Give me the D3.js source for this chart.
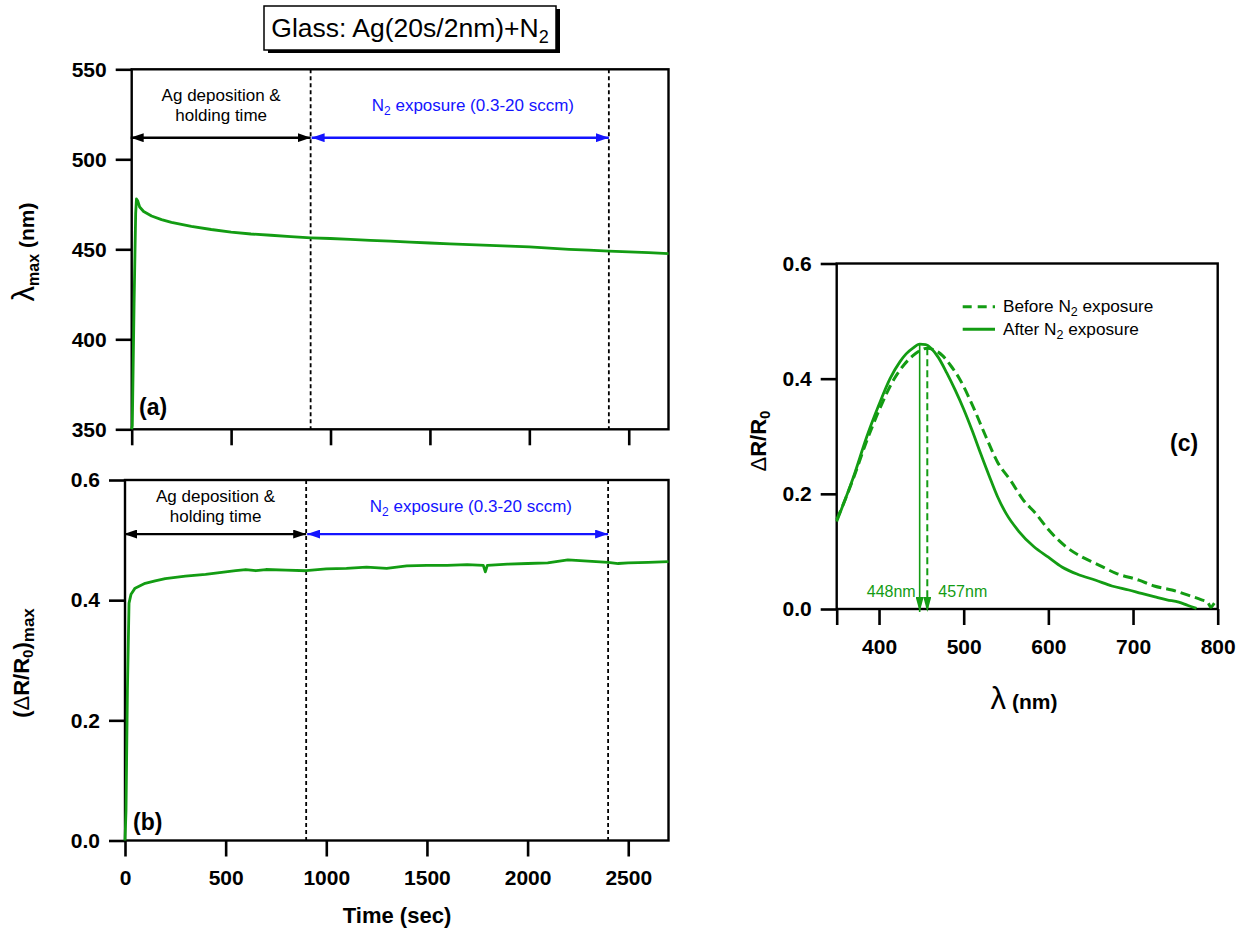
<!DOCTYPE html>
<html><head><meta charset="utf-8">
<script src="https://cdn.jsdelivr.net/npm/d3@7"></script>
<style>
body{margin:0;background:#fff;}
svg{display:block;font-family:"Liberation Sans",Arial,Helvetica,sans-serif;}
</style></head><body>
<svg id="c" width="1257" height="934"></svg>
<script>
// ---------------- data ----------------
const timeA = [0, 3, 12, 20, 24, 30, 40, 60, 100, 150, 200, 300, 400, 500, 600, 700, 800, 900, 1000, 1100, 1200, 1300, 1400, 1500, 1600, 1700, 1800, 1900, 2000, 2100, 2200, 2300, 2400, 2500, 2600, 2700];
const lambdaMaxA = [350, 352, 420, 470, 478, 477, 473.5, 471, 468.5, 466.5, 465, 462.8, 461, 459.5, 458.5, 457.8, 457, 456.4, 456, 455.5, 455, 454.5, 454, 453.5, 453, 452.6, 452.2, 451.8, 451.3, 450.6, 450, 449.5, 449, 448.6, 448.1, 447.6];

const timeB = [0, 5, 12, 20, 30, 50, 100, 150, 200, 300, 400, 500, 550, 600, 650, 700, 800, 900, 1000, 1100, 1200, 1300, 1400, 1500, 1600, 1700, 1780, 1790, 1800, 1900, 2000, 2100, 2200, 2300, 2400, 2450, 2500, 2600, 2700];
const dRmaxB = [0, 0.05, 0.25, 0.395, 0.41, 0.42, 0.428, 0.432, 0.436, 0.44, 0.443, 0.447, 0.449, 0.451, 0.449, 0.451, 0.450, 0.449, 0.452, 0.453, 0.455, 0.453, 0.457, 0.458, 0.458, 0.459, 0.458, 0.447, 0.458, 0.460, 0.461, 0.462, 0.467, 0.465, 0.463, 0.461, 0.462, 0.463, 0.464];

const wlAfter = [350, 360, 370, 385, 400, 413, 425, 432, 440, 448, 455, 462, 470, 480, 490, 500, 510, 520, 532, 540, 550, 565, 583, 600, 616, 635, 656, 675, 695, 710, 726, 740, 754, 765, 775];
const rAfter = [0.152, 0.19, 0.23, 0.297, 0.355, 0.40, 0.43, 0.443, 0.453, 0.46, 0.459, 0.452, 0.437, 0.41, 0.38, 0.347, 0.31, 0.27, 0.224, 0.195, 0.166, 0.135, 0.108, 0.09, 0.073, 0.06, 0.05, 0.04, 0.033, 0.027, 0.021, 0.016, 0.012, 0.006, 0.001];

const wlBefore = [350, 360, 370, 385, 400, 418, 430, 440, 450, 457, 465, 475, 485, 495, 510, 526, 540, 556, 570, 585, 600, 621, 640, 656, 680, 707, 725, 746, 765, 781, 788, 792, 797, 800];
const rBefore = [0.155, 0.19, 0.228, 0.29, 0.345, 0.40, 0.425, 0.44, 0.45, 0.453, 0.45, 0.44, 0.422, 0.40, 0.355, 0.30, 0.255, 0.222, 0.19, 0.166, 0.138, 0.108, 0.09, 0.079, 0.062, 0.05, 0.04, 0.033, 0.024, 0.016, 0.012, 0.003, 0.012, 0.014];

const peakWl = [448, 457];          // after, before
const peakVal = [0.46, 0.453];
const peakLabels = ["448nm", "457nm"];

const timeTicks = [0, 500, 1000, 1500, 2000, 2500];
const lambdaTicks = [350, 400, 450, 500, 550];
const ratioTicks = [0.0, 0.2, 0.4, 0.6];
const wlTicks = [350, 400, 500, 600, 700, 800];
const phaseBounds = [0, 900, 2400];   // deposition start, N2 start, N2 end
const arrowLevelA = 512, arrowLevelB = 0.51;

// ---------------- drawing ----------------
const GREEN = "#139c13", BLUE = "#1414ff";
const svg = d3.select("#c");

const defs = svg.append("defs");
function mk(id, color, w, h) {
  defs.append("marker").attr("id", id).attr("viewBox", `0 0 ${w} ${h}`)
    .attr("refX", w).attr("refY", h / 2).attr("markerWidth", w).attr("markerHeight", h)
    .attr("markerUnits", "userSpaceOnUse").attr("orient", "auto-start-reverse")
    .append("path").attr("d", `M0,0L${w},${h / 2}L0,${h}Z`).attr("fill", color);
}
mk("ahK", "#000", 13, 9);
mk("ahB", BLUE, 13, 9);
mk("ahG", GREEN, 15, 8);

const xA = d3.scaleLinear([0, 2700], [131.7, 668.5]);
const yA = d3.scaleLinear([350, 550], [429.3, 69.3]);
const xB = d3.scaleLinear([0, 2700], [125, 668.5]);
const yB = d3.scaleLinear([0, 0.6], [840.5, 480]);
const xC = d3.scaleLinear([350, 800], [836.7, 1217.7]);
const yC = d3.scaleLinear([0, 0.6], [609, 263.5]);

function frame(x, y, xt, yt, xfmt, yfmt) {
  const [x0, x1] = x.range(), [y0, y1] = [y.range()[1], y.range()[0]];
  const gx = svg.append("g").attr("transform", `translate(0,${y1})`)
    .call(d3.axisBottom(x).tickValues(xt).tickSize(16).tickSizeOuter(0).tickPadding(14).tickFormat(xfmt));
  const gy = svg.append("g").attr("transform", `translate(${x0},0)`)
    .call(d3.axisLeft(y).tickValues(yt).tickSize(16).tickSizeOuter(0).tickPadding(9).tickFormat(yfmt));
  [gx, gy].forEach(g => {
    g.attr("font-family", null).attr("font-size", null);
    g.selectAll("line").attr("stroke", "#000").attr("stroke-width", 2.6);
    g.select(".domain").remove();
    g.selectAll("text").attr("font-size", 21).attr("font-weight", "bold").attr("fill", "#000");
  });
  svg.append("rect").attr("x", x0).attr("y", y0).attr("width", x1 - x0).attr("height", y1 - y0)
    .attr("fill", "none").attr("stroke", "#000").attr("stroke-width", 2.4);
}

frame(xA, yA, timeTicks, lambdaTicks, () => "", d3.format("d"));
frame(xB, yB, timeTicks, ratioTicks, d3.format("d"), d3.format(".1f"));
frame(xC, yC, wlTicks, ratioTicks, d => d === 350 ? "" : d, d3.format(".1f"));

// phase lines and arrows for (a) and (b)
function phases(x, y, level, txtY, blueY, blueEnd) {
  [phaseBounds[1], phaseBounds[2]].forEach(t => {
    svg.append("line").attr("x1", x(t)).attr("x2", x(t)).attr("y1", y.range()[1]).attr("y2", y.range()[0])
      .attr("stroke", "#000").attr("stroke-width", 1.8).attr("stroke-dasharray", "4,3");
  });
  svg.append("line").attr("x1", x(phaseBounds[0]) - 1).attr("x2", x(phaseBounds[1]))
    .attr("y1", y(level)).attr("y2", y(level)).attr("stroke", "#000").attr("stroke-width", 2.4)
    .attr("marker-start", "url(#ahK)").attr("marker-end", "url(#ahK)");
  svg.append("line").attr("x1", x(phaseBounds[1]) + 1).attr("x2", x(phaseBounds[2]))
    .attr("y1", y(level)).attr("y2", y(level)).attr("stroke", BLUE).attr("stroke-width", 2.4)
    .attr("marker-start", "url(#ahB)").attr("marker-end", "url(#ahB)");
  const cx = (x(phaseBounds[0]) + x(phaseBounds[1])) / 2;
  svg.append("text").attr("x", cx).attr("y", txtY).attr("text-anchor", "middle").attr("font-size", 17).text("Ag deposition &");
  svg.append("text").attr("x", cx).attr("y", txtY + 20).attr("text-anchor", "middle").attr("font-size", 17).text("holding time");
  const t = svg.append("text").attr("x", blueEnd).attr("y", blueY).attr("text-anchor", "end").attr("font-size", 17).attr("fill", BLUE);
  t.append("tspan").text("N");
  t.append("tspan").attr("font-size", 12).attr("dy", 4).text("2");
  t.append("tspan").attr("dy", -4).text(" exposure (0.3-20 sccm)");
}
phases(xA, yA, arrowLevelA, 101, 111, 574);
phases(xB, yB, arrowLevelB, 502, 512, 572);

// data lines
const lineA = d3.line().x((d, i) => xA(timeA[i])).y(d => yA(d));
svg.append("path").attr("d", lineA(lambdaMaxA)).attr("fill", "none").attr("stroke", GREEN).attr("stroke-width", 2.8).attr("stroke-linejoin", "round");
const lineB = d3.line().x((d, i) => xB(timeB[i])).y(d => yB(d));
svg.append("path").attr("d", lineB(dRmaxB)).attr("fill", "none").attr("stroke", GREEN).attr("stroke-width", 2.8).attr("stroke-linejoin", "round");

const lineCa = d3.line().x((d, i) => xC(wlAfter[i])).y(d => yC(d)).curve(d3.curveMonotoneX);
const lineCb = d3.line().x((d, i) => xC(wlBefore[i])).y(d => yC(d)).curve(d3.curveMonotoneX);
svg.append("path").attr("d", lineCb(rBefore)).attr("fill", "none").attr("stroke", GREEN).attr("stroke-width", 3).attr("stroke-dasharray", "10,5");
svg.append("path").attr("d", lineCa(rAfter)).attr("fill", "none").attr("stroke", GREEN).attr("stroke-width", 2.8);

// peak arrows
svg.append("line").attr("x1", xC(peakWl[0])).attr("x2", xC(peakWl[0])).attr("y1", yC(peakVal[0])).attr("y2", yC(0) + 3)
  .attr("stroke", GREEN).attr("stroke-width", 1.6).attr("marker-end", "url(#ahG)");
svg.append("line").attr("x1", xC(peakWl[1])).attr("x2", xC(peakWl[1])).attr("y1", yC(peakVal[1])).attr("y2", yC(0) + 3)
  .attr("stroke", GREEN).attr("stroke-width", 2).attr("stroke-dasharray", "7,4").attr("marker-end", "url(#ahG)");
svg.append("text").attr("x", xC(peakWl[0]) - 4).attr("y", 597).attr("text-anchor", "end").attr("font-size", 16).attr("fill", GREEN).text(peakLabels[0]);
svg.append("text").attr("x", xC(peakWl[1]) + 11).attr("y", 597).attr("text-anchor", "start").attr("font-size", 16).attr("fill", GREEN).text(peakLabels[1]);

// legend (c)
[["Before", "10,5", 306.7], ["After", null, 329.3]].forEach(([w, dash, yy]) => {
  const l = svg.append("line").attr("x1", 962.7).attr("x2", 995).attr("y1", yy).attr("y2", yy)
    .attr("stroke", GREEN).attr("stroke-width", 3);
  if (dash) l.attr("stroke-dasharray", "9,6");
  const t = svg.append("text").attr("x", 1003).attr("y", yy + 5.5).attr("font-size", 17.2);
  t.append("tspan").text(w + " N");
  t.append("tspan").attr("font-size", 12.5).attr("dy", 4).text("2");
  t.append("tspan").attr("dy", -4).text(" exposure");
});

// panel labels
const pl = (x, y, s) => svg.append("text").attr("x", x).attr("y", y).attr("font-size", 23).attr("font-weight", "bold").text(s);
pl(139, 415, "(a)");
pl(133, 830, "(b)");
pl(1170, 451, "(c)");

// axis titles
let t = svg.append("text").attr("transform", "translate(34,252) rotate(-90)").attr("text-anchor", "middle");
t.append("tspan").attr("font-size", 31).text("λ");
t.append("tspan").attr("font-size", 16).attr("font-weight", "bold").attr("dy", 5).text("max");
t.append("tspan").attr("font-size", 21).attr("font-weight", "bold").attr("dy", -5).text(" (nm)");

t = svg.append("text").attr("transform", "translate(29,663) rotate(-90)").attr("text-anchor", "middle").attr("font-weight", "bold").attr("font-size", 22);
t.append("tspan").text("(");
t.append("tspan").attr("font-weight", "normal").text("Δ");
t.append("tspan").text("R/R");
t.append("tspan").attr("font-size", 15).attr("dy", 4).text("0");
t.append("tspan").attr("dy", -4).text(")");
t.append("tspan").attr("font-size", 17).attr("dy", 5).text("max");

t = svg.append("text").attr("transform", "translate(766,441) rotate(-90)").attr("text-anchor", "middle").attr("font-weight", "bold").attr("font-size", 22);
t.append("tspan").attr("font-weight", "normal").text("Δ");
t.append("tspan").text("R/R");
t.append("tspan").attr("font-size", 15).attr("dy", 4).text("0");

svg.append("text").attr("x", 397).attr("y", 923).attr("text-anchor", "middle").attr("font-size", 22).attr("font-weight", "bold").text("Time (sec)");

t = svg.append("text").attr("x", 1024).attr("y", 709).attr("text-anchor", "middle");
t.append("tspan").attr("font-size", 31).text("λ");
t.append("tspan").attr("font-size", 21).attr("font-weight", "bold").text(" (nm)");

// title box
svg.append("rect").attr("x", 268).attr("y", 9).attr("width", 292).attr("height", 44).attr("fill", "#000");
svg.append("rect").attr("x", 264).attr("y", 6).attr("width", 292).attr("height", 44).attr("fill", "#fff").attr("stroke", "#000").attr("stroke-width", 1.5);
t = svg.append("text").attr("x", 410).attr("y", 37).attr("text-anchor", "middle").attr("font-size", 26.5);
t.append("tspan").text("Glass: Ag(20s/2nm)+N");
t.append("tspan").attr("font-size", 18).attr("dy", 6).text("2");
</script>
</body></html>
